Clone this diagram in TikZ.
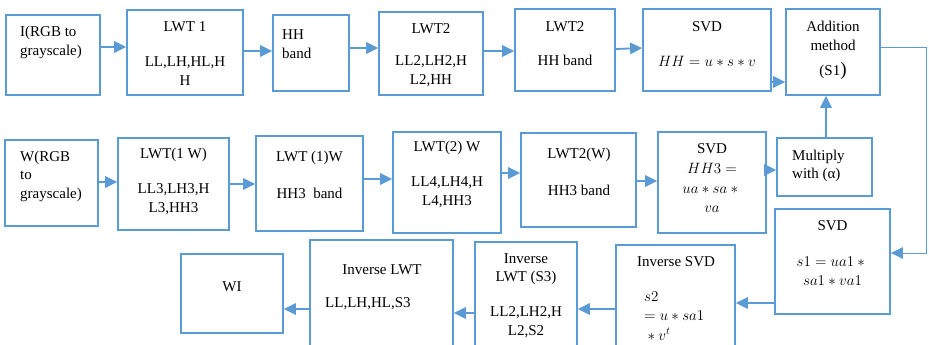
\RequirePackage{fix-cm}
\documentclass[tikz,border=0pt]{standalone}
\usepackage{fontspec}
\setmainfont{Liberation Serif}
\usetikzlibrary{arrows.meta}
\definecolor{flowblue}{HTML}{5B9BD5}
\newcommand\mth[1]{{\fontsize{15}{19.5}\selectfont$#1$}}
\tikzset{
  box/.style={draw=flowblue, line width=1.8pt, fill=white, inner sep=0pt},
  lbl/.style={font=\fontsize{15}{18.5}\selectfont, align=center, inner sep=0pt},
  lblm/.style={lbl, font=\fontsize{15}{19.5}\selectfont},
  lbll/.style={lbl, align=left, anchor=west},
  arr/.style={draw=flowblue, line width=1.8pt, -{Triangle[length=12pt,width=11.5pt]}},
  thinarr/.style={draw=flowblue, line width=1pt, -{Triangle[length=12pt,width=11.5pt]}},
}
\begin{document}
\begin{tikzpicture}[x=1pt,y=-1pt]
\path[use as bounding box] (0,0) rectangle (929,345);
\clip (0,0) rectangle (929,345);

% ---- top row: host image ----
\node[box, minimum width=94,  minimum height=80] (b1) at (53,55) {};
\node[box, minimum width=116, minimum height=85] (b2) at (185,52.5) {};
\node[box, minimum width=76,  minimum height=76] (b3) at (311,53) {};
\node[box, minimum width=104, minimum height=83] (b4) at (431,53.5) {};
\node[box, minimum width=100, minimum height=82] (b5) at (565,50) {};
\node[box, minimum width=128, minimum height=82] (b6) at (707,50) {};
\node[box, minimum width=94,  minimum height=86] (b7) at (833,52) {};

\node[lbll] (b1t) at (20,42.5) {I(RGB to\\grayscale)};
\node[lbl] (b2a) at (185,27) {LWT 1};
\node[lbl] (b2b) at (185,71) {LL,LH,HL,H\\H};
\node[lbll] (b3t) at (282,44) {HH\\band};
\node[lbl] (b4a) at (431,29) {LWT2};
\node[lbl] (b4b) at (431,71) {LL2,LH2,H\\L2,HH};
\node[lbl] (b5a) at (565,27) {LWT2};
\node[lbl] (b5b) at (565,60) {HH band};
\node[lbl] (b6a) at (707,27) {SVD};
\node[lbl] (b6b) at (707,61) {\mth{HH = u * s * v}};
\node[lbl] (b7a) at (833,36) {Addition\\method};
\node[lbl] (b7b) at (833,71) {(S1{\fontsize{19}{19}\selectfont)}};

% ---- middle row: watermark ----
\node[box, minimum width=93,  minimum height=86]  (w1) at (51.5,183) {};
\node[box, minimum width=111, minimum height=92]  (w2) at (173.5,184) {};
\node[box, minimum width=107, minimum height=95]  (w3) at (309.5,183.5) {};
\node[box, minimum width=108, minimum height=101] (w4) at (447,182.5) {};
\node[box, minimum width=115, minimum height=94]  (w5) at (578.5,180) {};
\node[box, minimum width=108, minimum height=101] (w6) at (712,182.5) {};
\node[box, minimum width=95,  minimum height=58]  (w7) at (824.5,167) {};

\node[lbll] (w1t) at (20,176) {W(RGB\\to\\grayscale)};
\node[lbl] (w2a) at (173.5,155) {LWT(1 W)};
\node[lbl] (w2b) at (173.5,199) {LL3,LH3,H\\L3,HH3};
\node[lbl] (w3a) at (309.5,158) {LWT (1)W};
\node[lbl] (w3b) at (309.5,193) {HH3\ \ band};
\node[lbl] (w4a) at (447,148) {LWT(2) W};
\node[lbl] (w4b) at (447,192) {LL4,LH4,H\\L4,HH3};
\node[lbl] (w5a) at (579,155) {LWT2(W)};
\node[lbl] (w5b) at (579,190) {HH3 band};
\node[lbl] (w6a) at (712,149) {SVD};
\node[lblm] (w6b) at (712,188) {\mth{HH3 =}\\\mth{ua * sa *{}}\\\mth{va}};
\node[lbll] (w7t) at (792,166) {Multiply\\with (α)};

% ---- bottom row: extraction ----
\node[box, minimum width=115, minimum height=105] (r1) at (832.5,261.5) {};
\node[box, minimum width=119, minimum height=115] (r2) at (675.5,302.5) {};
\node[box, minimum width=102, minimum height=118] (r3) at (526,301) {};
\node[box, minimum width=143, minimum height=120] (r4) at (381.5,300) {};
\node[box, minimum width=102, minimum height=79]  (r5) at (232,293.5) {};

\node[lbl] (r1a) at (832.5,226) {SVD};
\node[lblm] (r1b) at (832.5,271) {\mth{s1 = ua1 *{}}\\\mth{sa1 * va1}};
\node[lbl] (r2a) at (676,262) {Inverse SVD};
\node[lblm, align=left, anchor=west] (r2b) at (644,316) {\mth{s2}\\\mth{= u * sa1}\\\mth{{}* v^t}};
\node[lbl] (r3a) at (526,269) {Inverse\\LWT (S3)};
\node[lbl] (r3b) at (526,322) {LL2,LH2,H\\L2,S2};
\node[lbl] (r4a) at (382,270) {Inverse LWT};
\node[lbll] (r4b) at (325,304) {LL,LH,HL,S3};
\node[lbl] (r5t) at (232,287) {WI};

% ---- connectors ----
\draw[arr] (b1.east |- 0,47) -- (b2.west |- 0,47);
\draw[arr] (b2.east |- 0,51) -- (b3.west |- 0,51);
\draw[arr] (b3.east |- 0,48) -- (b4.west |- 0,48);
\draw[arr] (b4.east |- 0,51) -- (b5.west |- 0,51);
\draw[arr] (b5.east |- 0,49) -- (b6.west |- 0,48);
\draw[arr] (b6.east |- 0,82) -- (b7.west |- 0,82);

\draw[arr] (w1.east |- 0,182) -- (w2.west |- 0,182);
\draw[arr] (w2.east |- 0,184) -- (w3.west |- 0,184);
\draw[arr] (w3.east |- 0,179) -- (w4.west |- 0,179);
\draw[arr] (w4.east |- 0,173) -- (w5.west |- 0,173);
\draw[arr] (w5.east |- 0,181) -- (w6.west |- 0,181);
\draw[arr] (w6.east |- 0,170) -- (w7.west |- 0,170);
\draw[arr] (w7.north -| 826,0) -- (b7.south -| 826,0);

\coordinate (turnA) at (926,48);
\coordinate (turnB) at (926,253);
\draw[thinarr] (b7.east |- turnA) -- (turnA) -- (turnB) -- (r1.east |- turnB);

\draw[arr] (r1.west |- 0,303) -- (r2.east |- 0,303);
\draw[arr] (r2.west |- 0,309) -- (r3.east |- 0,309);
\draw[arr] (r3.west |- 0,313) -- (r4.east |- 0,313);
\draw[arr] (r4.west |- 0,309) -- (r5.east |- 0,309);
\end{tikzpicture}
\end{document}
